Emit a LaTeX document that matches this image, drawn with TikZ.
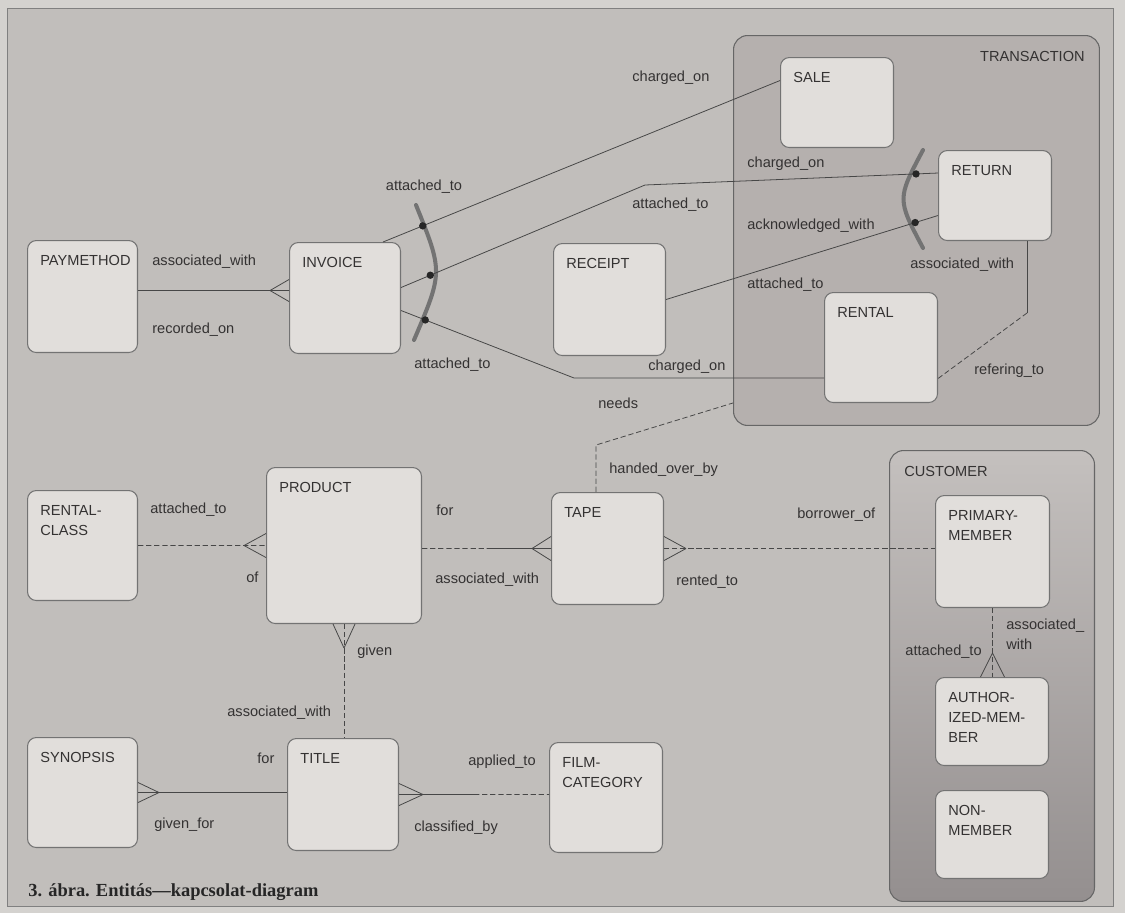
\documentclass[tikz,border=0pt]{standalone}
\usepackage{fontspec}
\setmainfont{Liberation Sans}
\newfontfamily\capfont{Liberation Serif}
\usepackage{tikz}
\usetikzlibrary{calc}

\definecolor{outgray}{RGB}{212,210,207}
\definecolor{pagegray}{RGB}{193,190,187}
\definecolor{boxfill}{RGB}{225,222,219}
\definecolor{trfill}{RGB}{181,176,174}
\definecolor{cutop}{RGB}{196,192,190}
\definecolor{cubot}{RGB}{148,143,143}
\definecolor{txtgray}{RGB}{52,50,50}

\newcommand{\erfont}{\fontsize{8.3}{11.3}\selectfont}
% crow's foot: edge point, apex offset, prong offset
\newcommand{\crowfoot}[3]{\draw[rel] ($#1+#2$) -- ($#1+#3$) ($#1+#2$) -- ($#1-#3$);}

\tikzset{
    ent/.style={draw=black!55, fill=boxfill, line width=0.6pt, rounded corners=5pt,
        anchor=north west, inner sep=0pt, minimum width=2.24cm, minimum height=2.22cm},
    etxt/.style={anchor=north west, xshift=0.26cm, yshift=-0.3cm, inner sep=0pt,
        align=left, font=\erfont, text=txtgray},
    grp/.style={draw=black!60, line width=0.6pt, rounded corners=8pt, anchor=north west, inner sep=0pt},
    gtxt/.style={yshift=-0.32cm, inner sep=0pt, font=\erfont, text=txtgray},
    rel/.style={draw=black!72, line width=0.45pt},
    opt/.style={rel, dash pattern=on 3pt off 1.6pt},
    rlbl/.style={anchor=west, inner sep=0pt, font=\erfont, text=txtgray},
    xarc/.style={draw=black!55, line width=2.3pt, line cap=round},
    xdot/.style={circle, fill=black!85, inner sep=0pt, minimum size=4.2pt}
}

\begin{document}
\begin{tikzpicture}[x=0.02cm,y=-0.02cm]
    % Page
    \useasboundingbox (0,0) rectangle (1125,913);
    \fill[outgray] (0,0) rectangle (1125,913);
    \draw[black!50,fill=pagegray] (7,8) rectangle (1113,906);

    % Supertype groups
    \node[grp, fill=trfill, minimum width=7.32cm, minimum height=7.8cm,
        label={[gtxt,anchor=north east,xshift=-0.3cm]north east:TRANSACTION}] (trans) at (733,35) {};
    \node[grp, top color=cutop, bottom color=cubot, minimum width=4.1cm, minimum height=9.02cm,
        label={[gtxt,anchor=north west,xshift=0.3cm]north west:CUSTOMER}] (cust) at (889,450) {};

    % Entities
    \node[ent, minimum width=2.2cm, minimum height=2.24cm, label={[etxt]north west:PAYMETHOD}] (paym) at (27,240) {};
    \node[ent, minimum width=2.22cm, label={[etxt]north west:INVOICE}] (invoice) at (289,242) {};
    \node[ent, minimum height=2.24cm, label={[etxt]north west:RECEIPT}] (receipt) at (553,243) {};
    \node[ent, minimum width=2.26cm, minimum height=1.8cm, label={[etxt]north west:SALE}] (sale) at (780,57) {};
    \node[ent, minimum width=2.26cm, minimum height=1.8cm, label={[etxt]north west:RETURN}] (return) at (938,150) {};
    \node[ent, minimum width=2.26cm, minimum height=2.2cm, label={[etxt]north west:RENTAL}] (rental) at (824,292) {};
    \node[ent, minimum width=2.2cm, minimum height=2.2cm, label={[etxt]north west:{RENTAL-\\CLASS}}] (rclass) at (27,490) {};
    \node[ent, minimum width=3.1cm, minimum height=3.12cm, label={[etxt]north west:PRODUCT}] (product) at (266,467) {};
    \node[ent, minimum height=2.24cm, label={[etxt]north west:TAPE}] (tape) at (551,492) {};
    \node[ent, minimum width=2.28cm, minimum height=2.24cm, label={[etxt]north west:{PRIMARY-\\MEMBER}}] (primary) at (935,495) {};
    \node[ent, minimum width=2.26cm, minimum height=1.76cm, label={[etxt]north west:{AUTHOR-\\IZED-MEM-\\BER}}] (author) at (935,677) {};
    \node[ent, minimum width=2.26cm, minimum height=1.76cm, label={[etxt]north west:{NON-\\MEMBER}}] (nonmem) at (935,790) {};
    \node[ent, minimum width=2.2cm, minimum height=2.2cm, label={[etxt]north west:SYNOPSIS}] (synopsis) at (27,737) {};
    \node[ent, minimum width=2.22cm, minimum height=2.24cm, label={[etxt]north west:TITLE}] (title) at (287,738) {};
    \node[ent, minimum width=2.26cm, minimum height=2.2cm, label={[etxt]north west:{FILM-\\CATEGORY}}] (film) at (549,742) {};

    % Exclusive arcs
    \draw[xarc] (416,205) .. controls (443,272) .. (414,340);
    \draw[xarc] (923,150) .. controls (897,199) .. (923,248);

    % Relationships, upper part
    \draw[rel] ([yshift=0.12cm]paym.east) -- ([yshift=0.15cm]invoice.west);
    \crowfoot{([yshift=0.15cm]invoice.west)}{(-19,0)}{(0,11)}
    \draw[rel] ([xshift=-0.36cm]invoice.north east) -- node[xdot,pos=0.1] (d1) {} ([yshift=0.44cm]sale.west);
    \coordinate (b1) at (645,185);
    \draw[rel] ([yshift=0.21cm]invoice.east) -- node[xdot,pos=0.12] (d2) {} (b1)
        -- node[xdot,pos=0.925] (d4) {} ([yshift=0.45cm]return.west);
    \coordinate (b2) at (574,378);
    \draw[rel] ([yshift=-0.25cm]invoice.east) -- node[xdot,pos=0.14] (d3) {} (b2) -- (b2 -| rental.west);
    \draw[rel] (receipt.east) -- node[xdot,pos=0.916] (d5) {} ([yshift=-0.4cm]return.west);
    \coordinate (b3) at (1027,313);
    \draw[rel] (return.south -| b3) -- (b3);
    \draw[opt] (b3) -- ([yshift=-0.62cm]rental.east);
    \coordinate (b4) at (596,445);
    \draw[opt] (tape.north -| b4) -- (b4) -- ([yshift=0.46cm]trans.south west);

    % Relationships, lower part
    \draw[opt] (rclass.east) -- (product.west);
    \crowfoot{(product.west)}{(-22,0)}{(0,12)}
    \coordinate (pe) at (product.east |- tape.west);
    \coordinate (m1) at ($(pe)!0.5!(tape.west)$);
    \draw[opt] (pe) -- (m1);
    \draw[rel] (m1) -- (tape.west);
    \crowfoot{(tape.west)}{(-19,0)}{(0,12)}
    \draw[opt] (tape.east) -- (tape.east -| primary.west);
    \crowfoot{(tape.east)}{(22,0)}{(0,12)}
    \draw[opt] (product.south) -- (product.south |- title.north);
    \crowfoot{(product.south)}{(0,24)}{(11,0)}
    \draw[rel] (synopsis.east) -- (synopsis.east -| title.west);
    \crowfoot{(synopsis.east)}{(21,0)}{(0,10)}
    \coordinate (fe) at (title.east -| film.west);
    \coordinate (m2) at ($(title.east)!0.5!(fe)$);
    \draw[rel] (title.east) -- (m2);
    \draw[opt] (m2) -- (fe);
    \crowfoot{(title.east)}{(24,0)}{(0,11)}
    \coordinate (af) at (primary.south |- author.north);
    \draw[opt] (primary.south) -- (af);
    \crowfoot{(af)}{(0,-24)}{(12,0)}

    % Relationship names
    \node[rlbl] (n1) at (152,262) {associated\_with};
    \node[rlbl] (n2) at (152,330) {recorded\_on};
    \node[rlbl, anchor=center] (n3) at (424,187) {attached\_to};
    \node[rlbl] (n4) at (414,365) {attached\_to};
    \node[rlbl] (n5) at (632,78) {charged\_on};
    \node[rlbl] (n6) at (747,164) {charged\_on};
    \node[rlbl] (n7) at (632,205) {attached\_to};
    \node[rlbl] (n8) at (747,226) {acknowledged\_with};
    \node[rlbl] (n9) at (910,265) {associated\_with};
    \node[rlbl] (n10) at (747,285) {attached\_to};
    \node[rlbl] (n11) at (648,367) {charged\_on};
    \node[rlbl] (n12) at (974,371) {refering\_to};
    \node[rlbl] (n13) at (598,403) {needs};
    \node[rlbl] (n14) at (609,470) {handed\_over\_by};
    \node[rlbl] (n15) at (150,510) {attached\_to};
    \node[rlbl] (n16) at (436,510) {for};
    \node[rlbl] (n17) at (797,515) {borrower\_of};
    \node[rlbl] (n18) at (246,577) {of};
    \node[rlbl] (n19) at (435,580) {associated\_with};
    \node[rlbl] (n20) at (676,582) {rented\_to};
    \node[rlbl, anchor=north west, align=left] (n21) at (1006,619) {associated\_\\with};
    \node[rlbl, anchor=east] (n22) at (982,652) {attached\_to};
    \node[rlbl] (n23) at (357,652) {given};
    \node[rlbl] (n24) at (227,713) {associated\_with};
    \node[rlbl] (n25) at (257,758) {for};
    \node[rlbl] (n26) at (468,762) {applied\_to};
    \node[rlbl] (n27) at (154,825) {given\_for};
    \node[rlbl] (n28) at (414,828) {classified\_by};

    % Caption
    \node[anchor=west, inner sep=0pt, font=\capfont\bfseries\fontsize{10.5}{12}\selectfont, text=black!85]
        (caption) at (28,892) {3. ábra. Entitás—kapcsolat-diagram};
\end{tikzpicture}
\end{document}
